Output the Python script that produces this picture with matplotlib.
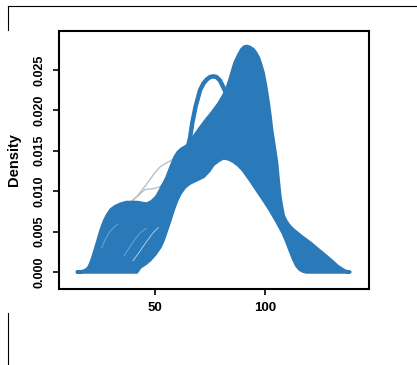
import numpy as np
import matplotlib.pyplot as plt
from matplotlib.lines import Line2D

# outer edge of the overlaid density curves
x_up = [14.7, 16, 17.5, 19, 20, 21, 22, 23, 24, 25.5, 27, 28.5, 30, 32, 34.5, 37, 40,
        42, 44, 46.2, 48.5, 50.8, 53, 55.3, 57.3, 59.1, 60.5, 62.1, 64, 65.9, 67.4,
        70, 73, 76, 79, 81.8, 83, 84.1, 85.3, 86.4, 88, 89.4, 90.5, 91.7, 93, 94.7,
        96, 97, 98, 99.2, 100.3, 101.5, 102.3, 103, 104.2, 105.3, 106, 106.8, 107.6,
        108.3, 109.3, 110.5, 111.4, 112.9, 116.5, 120.5, 124, 128, 131, 133, 134.1,
        136.5, 138.6]
y_up = [0, 0, 0.0001, 0.0003, 0.0006, 0.0012, 0.0020, 0.0029, 0.0038, 0.0052, 0.0063,
        0.0071, 0.0077, 0.0081, 0.0084, 0.0086, 0.0086, 0.0086, 0.0085, 0.0084, 0.0087,
        0.0093, 0.0104, 0.0116, 0.0130, 0.0142, 0.0148, 0.0152, 0.0155, 0.0158, 0.0166,
        0.0176, 0.0187, 0.0197, 0.0208, 0.0221, 0.0229, 0.0238, 0.0249, 0.0259, 0.0268,
        0.0275, 0.0278, 0.0279, 0.0278, 0.0275, 0.0270, 0.0265, 0.0257, 0.0246, 0.0230,
        0.0209, 0.0193, 0.0176, 0.0155, 0.0135, 0.0114, 0.0093, 0.0080, 0.0070, 0.0064,
        0.0059, 0.0056, 0.0052, 0.0044, 0.0036, 0.0028, 0.0019, 0.0012, 0.0007, 0.0005,
        0.0001, 0]

# inner edge (white arch under the curves)
x_lo = [14.7, 41.7, 43.2, 45.5, 47.7, 50, 52.3, 53.8, 55.3, 56.8, 58.3, 59.8, 61.4,
        63.5, 65.9, 69, 72, 74.5, 76.5, 79, 81, 83.3, 85.6, 88, 90.1, 93, 96.2, 99.2,
        102.3, 105.3, 108.3, 110, 111.4, 113, 114.4, 116, 117.4, 119, 138.6]
y_lo = [0, 0, 0.0006, 0.0010, 0.0015, 0.0022, 0.0031, 0.0040, 0.0052, 0.0064, 0.0077,
        0.0088, 0.0097, 0.0105, 0.0110, 0.0114, 0.0118, 0.0125, 0.0133, 0.0138, 0.0141,
        0.0140, 0.0137, 0.0132, 0.0126, 0.0115, 0.0102, 0.0090, 0.0077, 0.0063, 0.0048,
        0.0037, 0.0027, 0.0016, 0.0008, 0.0003, 0.0001, 0, 0]

# draw with the early bump
x_bump = [64.5, 65.9, 67, 68.5, 70.5, 72, 73.5, 75, 76.5, 78, 79.5, 81, 82.6]
y_bump = [0.0150, 0.0165, 0.0185, 0.0205, 0.0225, 0.0233, 0.0238, 0.0241, 0.0242,
          0.0241, 0.0237, 0.0229, 0.0219]

# two grey draws poking above the left shoulder
x_grey1 = [36, 38.6, 42, 46, 50, 52.3, 55.3, 58]
y_grey1 = [0.0084, 0.0086, 0.0094, 0.0108, 0.0123, 0.0130, 0.0135, 0.0139]
x_grey2 = [39, 41.7, 45.5, 49.2, 52, 54]
y_grey2 = [0.0086, 0.0093, 0.0102, 0.0103, 0.0105, 0.0110]

# lighter streaks inside the left shoulder
x_streak1 = [25.8, 27.5, 29.5, 31.5, 33]
y_streak1 = [0.0030, 0.0041, 0.0050, 0.0056, 0.0059]
x_streak2 = [36, 38.5, 41, 43.5, 46]
y_streak2 = [0.0020, 0.0031, 0.0041, 0.0049, 0.0054]
x_streak3 = [40, 43, 46, 49, 51.5]
y_streak3 = [0.0014, 0.0025, 0.0037, 0.0048, 0.0055]

yticks = [0, 0.005, 0.010, 0.015, 0.020, 0.025]
xticks = [50, 100]

blue = '#2a79b8'

fig = plt.figure(figsize=(4.17, 3.65), dpi=100)
ax = fig.add_axes([59/417, 76/365, 310/417, 258/365])

ax.plot(x_grey1, y_grey1, color='#b8c2cc', lw=1.0, zorder=1)
ax.plot(x_grey2, y_grey2, color='#b8c2cc', lw=1.0, zorder=1)
ax.fill(np.r_[x_up, x_lo[::-1]], np.r_[y_up, y_lo[::-1]], facecolor=blue,
        edgecolor=blue, lw=2.5, joinstyle='round', zorder=2)
ax.plot(x_bump, y_bump, color=blue, lw=3.2, solid_capstyle='round', zorder=3)
ax.plot(x_streak1, y_streak1, color='#6ea5d3', lw=0.7, zorder=3)
ax.plot(x_streak2, y_streak2, color='#6ea5d3', lw=0.7, zorder=3)
ax.plot(x_streak3, y_streak3, color='#e4eef7', lw=0.6, alpha=0.8, zorder=3)

ax.set_xlim(6.36, 147.3)
ax.set_ylim(-0.0021, 0.0298)
ax.set_xticks(xticks)
ax.set_yticks(yticks)
ax.set_yticklabels(['%.3f' % v for v in yticks], rotation=90, va='center')
ax.tick_params(length=4.5, width=1.2, direction='out')
ax.tick_params(axis='y', pad=5, labelsize=9)
ax.tick_params(axis='x', pad=5, labelsize=9.5)
for lab in ax.get_xticklabels() + ax.get_yticklabels():
    lab.set_fontfamily('Liberation Sans')
    lab.set_fontweight('bold')
for s in ax.spines.values():
    s.set_linewidth(1.5)

ax.set_ylabel('Density', fontfamily='Liberation Sans', fontweight='bold', fontsize=10.5)
ax.yaxis.set_label_coords(-0.123, 0.5)

# page borders around the screenshot
fig.add_artist(Line2D([8/417, 1], [359/365, 359/365], color='black', lw=0.8))
fig.add_artist(Line2D([8/417, 8/417], [359/365, 335/365], color='black', lw=0.8))
fig.add_artist(Line2D([8/417, 8/417], [0, 52/365], color='black', lw=0.8))

fig.savefig('out.png', dpi=100)
